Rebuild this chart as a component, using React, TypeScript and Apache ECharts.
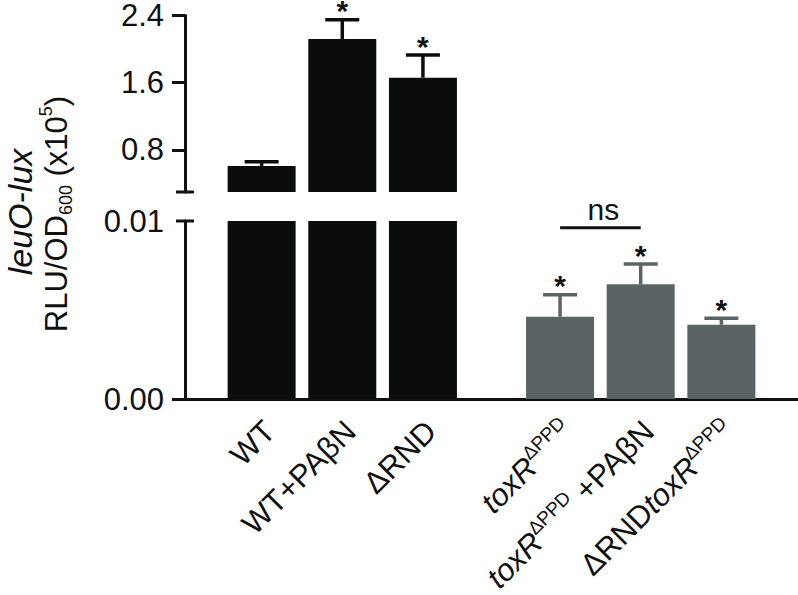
import React, { useEffect, useRef } from 'react';
import * as echarts from 'echarts';

// ---- data ----
const categories = ['WT', 'WT+PAβN', 'ΔRND', 'toxRΔPPD', 'toxRΔPPD +PAβN', 'ΔRNDtoxRΔPPD'];
const categoryLabels = [
  'WT',
  'WT+PAβN',
  'ΔRND',
  '{i|toxR}{sup|ΔPPD}',
  '{i|toxR}{sup|ΔPPD}{n| +PAβN}',
  '{n|ΔRND}{i|toxR}{sup|ΔPPD}',
];
const xPositions = [0.95, 1.95, 2.95, 4.65, 5.65, 6.65];
const means = [0.61, 2.12, 1.66, 0.00462, 0.00644, 0.00417];
const errors = [0.05, 0.23, 0.27, 0.00124, 0.00114, 0.00036];
const significant = [false, true, true, true, true, true];
const upperTicks = [0.8, 1.6, 2.4];
const lowerTicks = [0, 0.01];
const upperRange = [0.3, 2.4];
const lowerRange = [0, 0.01];
const nsPair = [3, 4];
const nsLevel = 0.00962;
const xRange = [0, 7.6];

// ---- styles ----
const barColors = ['#0b0d0d', '#0b0d0d', '#0b0d0d', '#5a6464', '#5a6464', '#5a6464'];
const ink = '#111111';
const font = '"Liberation Sans", Arial, Helvetica, sans-serif';

function barSeries(g: number) {
  return {
    type: 'bar',
    xAxisIndex: g,
    yAxisIndex: g,
    barWidth: 68,
    clip: true,
    data: xPositions.map((x, i) => [x, means[i]]),
    itemStyle: { color: (p: any) => barColors[p.dataIndex] },
    silent: true,
  };
}

function errorSeries(g: number, range: number[]) {
  return {
    type: 'custom',
    xAxisIndex: g,
    yAxisIndex: g,
    silent: true,
    data: xPositions.map((x, i) => [x, means[i], errors[i], i]),
    renderItem: (params: any, api: any) => {
      const x = api.value(0);
      const m = api.value(1);
      const e = api.value(2);
      const i = api.value(3);
      const top = m + e;
      if (top > range[1] || top < range[0]) return { type: 'group', children: [] };
      const base = api.coord([x, Math.max(m, range[0])]);
      const cap = api.coord([x, top]);
      const color = barColors[i];
      const children: any[] = [
        { type: 'line', shape: { x1: base[0], y1: base[1], x2: cap[0], y2: cap[1] }, style: { stroke: color, lineWidth: 3.5 } },
        { type: 'line', shape: { x1: cap[0] - 17, y1: cap[1], x2: cap[0] + 17, y2: cap[1] }, style: { stroke: color, lineWidth: 3.5 } },
      ];
      if (significant[i]) {
        children.push({
          type: 'text',
          x: cap[0],
          y: cap[1] - 9,
          style: { text: '*', fontSize: 30, fontWeight: 'bold', fontFamily: font, fill: ink, align: 'center', verticalAlign: 'middle' },
        });
      }
      return { type: 'group', children };
    },
  };
}

function capSeries(g: number, value: number) {
  return {
    type: 'custom',
    xAxisIndex: g,
    yAxisIndex: g,
    silent: true,
    data: [[xRange[0], value]],
    renderItem: (params: any, api: any) => {
      const p = api.coord([api.value(0), api.value(1)]);
      return { type: 'line', shape: { x1: p[0] - 9, y1: p[1], x2: p[0] + 9, y2: p[1] }, style: { stroke: ink, lineWidth: 3 } };
    },
  };
}

function nsSeries() {
  return {
    type: 'custom',
    xAxisIndex: 1,
    yAxisIndex: 1,
    silent: true,
    data: [[xPositions[nsPair[0]], xPositions[nsPair[1]], nsLevel]],
    renderItem: (params: any, api: any) => {
      const a = api.coord([api.value(0), api.value(2)]);
      const b = api.coord([api.value(1), api.value(2)]);
      return {
        type: 'group',
        children: [
          { type: 'line', shape: { x1: a[0], y1: a[1], x2: b[0], y2: b[1] }, style: { stroke: ink, lineWidth: 3 } },
          {
            type: 'text',
            x: (a[0] + b[0]) / 2 + 3,
            y: a[1] - 18,
            style: { text: 'ns', fontSize: 30, fontFamily: font, fill: ink, align: 'center', verticalAlign: 'middle' },
          },
        ],
      };
    },
  };
}

function yAxis(g: number, range: number[], ticks: number[], tickValues: number[], digits: number) {
  return {
    type: 'value',
    gridIndex: g,
    min: range[0],
    max: range[1],
    axisLine: { show: true, lineStyle: { color: ink, width: 3 } },
    axisTick: { show: true, length: 13, lineStyle: { color: ink, width: 3 }, customValues: tickValues },
    axisLabel: {
      customValues: ticks,
      formatter: (v: number) => v.toFixed(digits),
      fontSize: 31,
      fontFamily: font,
      color: ink,
      margin: 21,
    },
    splitLine: { show: false },
  };
}

export default function App() {
  const ref = useRef<HTMLDivElement>(null);
  useEffect(() => {
    document.body.style.margin = '0';
    const chart = echarts.init(ref.current!, null, { renderer: 'svg' });
    const option: any = {
      animation: false,
      backgroundColor: '#ffffff',
      grid: [
        { left: 185, right: 0, top: 15, height: 177 },
        { left: 185, right: 0, top: 221, height: 178 },
      ],
      xAxis: [
        { type: 'value', gridIndex: 0, min: xRange[0], max: xRange[1], show: false },
        {
          type: 'value',
          gridIndex: 1,
          min: xRange[0],
          max: xRange[1],
          axisLine: { show: true, lineStyle: { color: ink, width: 3 } },
          axisTick: { show: false },
          axisLabel: { show: false },
          splitLine: { show: false },
        },
      ],
      yAxis: [
        yAxis(0, upperRange, upperTicks, upperTicks, 1),
        yAxis(1, lowerRange, lowerTicks, [lowerTicks[0]], 2),
      ],
      series: [
        barSeries(0),
        barSeries(1),
        errorSeries(0, upperRange),
        errorSeries(1, lowerRange),
        capSeries(0, upperRange[0]),
        capSeries(1, lowerRange[1]),
        nsSeries(),
      ],
    };
    chart.setOption(option);

    const y0 = chart.convertToPixel({ yAxisIndex: 1 } as any, lowerRange[0]) as number;
    const rich = {
      i: { fontStyle: 'italic', fontSize: 31, fontFamily: font, fill: ink, lineHeight: 37 },
      n: { fontSize: 31, fontFamily: font, fill: ink, lineHeight: 37 },
      sup: { fontSize: 19, fontFamily: font, fill: ink, verticalAlign: 'top', lineHeight: 19 },
    };
    const labels = categoryLabels.map((t, i) => {
      const px = chart.convertToPixel({ xAxisIndex: 1 } as any, xPositions[i]) as number;
      return {
        type: 'text',
        x: px + 8,
        y: y0 + 27,
        rotation: Math.PI / 4,
        z: 100,
        style: {
          text: t,
          rich,
          fontSize: 31,
          fontFamily: font,
          fill: ink,
          align: 'right',
          verticalAlign: 'middle',
        },
      };
    });
    const titles = [
      {
        type: 'text',
        x: 20,
        y: 212,
        rotation: Math.PI / 2,
        style: { text: 'leuO-lux', fontSize: 34, fontStyle: 'italic', fontFamily: font, fill: ink, align: 'center', verticalAlign: 'middle' },
      },
      {
        type: 'text',
        x: 56,
        y: 214,
        rotation: Math.PI / 2,
        style: {
          text: '{n|RLU/OD}{sub|600}{n| (x10}{sup|5}{n|)}',
          rich: {
            n: { fontSize: 31, fontFamily: font, fill: ink, lineHeight: 38 },
            sub: { fontSize: 18, fontFamily: font, fill: ink, verticalAlign: 'bottom', lineHeight: 18 },
            sup: { fontSize: 18, fontFamily: font, fill: ink, verticalAlign: 'top', lineHeight: 18 },
          },
          align: 'center',
          verticalAlign: 'middle',
        },
      },
    ];
    chart.setOption({ graphic: [...labels, ...titles] });
    return () => chart.dispose();
  }, []);
  return <div ref={ref} style={{ position: 'fixed', left: 0, top: 0, width: 798, height: 595 }} title={categories.join(', ')} />;
}
